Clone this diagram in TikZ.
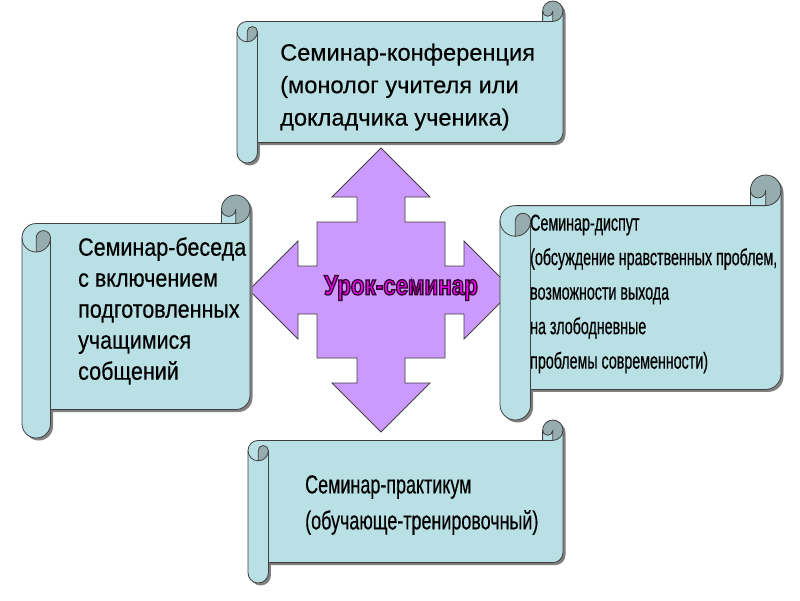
\documentclass[tikz,border=0pt]{standalone}
\usepackage{fontspec}
\setmainfont{Liberation Sans}
\newfontfamily\conffont[FakeBold=0.3]{Liberation Sans}
\newfontfamily\talkfont[FakeStretch=0.86,FakeBold=0.4]{Liberation Sans}
\newfontfamily\disputefont[FakeStretch=0.62,FakeBold=0.5]{Liberation Sans}
\newfontfamily\practfont[FakeStretch=0.69,FakeBold=0.4]{Liberation Sans}
\newfontfamily\lessonfont[FakeStretch=0.8]{Liberation Sans Bold}
\definecolor{scrollblue}{RGB}{185,224,228}
\definecolor{curlgray}{RGB}{150,172,174}
\definecolor{edgegray}{RGB}{64,64,64}
\definecolor{arrowlilac}{RGB}{204,153,255}
\definecolor{glowpink}{RGB}{245,0,240}
% outlined text: fill from the text colour, dark plum stroke
\newcommand{\plumoutline}[1]{\special{pdf:literal direct 0.18 0 0.18 RG 1.3 w 2 Tr}#1\special{pdf:literal direct 0 Tr}}
% scroll: left, top, right, bottom, roll size
\newcommand{\scrollshape}[5]{%
  \pgfmathsetmacro\scrW{#3-#1}\pgfmathsetmacro\scrB{#4-#2}%
  \pgfmathsetmacro\scrC{#5}\pgfmathsetmacro\scrH{#5/2}\pgfmathsetmacro\scrQ{#5/4}%
  \begin{scope}[shift={(#1,#2)}]
    \fill[scrollshadow,shift={(2.5,2.5)}] (0,1.5*\scrC) arc[start angle=180,end angle=270,radius=\scrH] -- (\scrW-\scrC,\scrC) -- (\scrW-\scrC,\scrH) arc[start angle=180,end angle=360,radius=\scrH] -- (\scrW,\scrB-1.5*\scrC) arc[start angle=0,end angle=90,radius=\scrH] -- (\scrC,\scrB-\scrC) -- (\scrC,\scrB-\scrH) arc[start angle=0,end angle=180,radius=\scrH] -- cycle;
    \fill[scrollfill] (\scrW,\scrH) arc[start angle=0,end angle=90,radius=\scrH] -- (\scrW-\scrH,\scrH) arc[start angle=0,end angle=180,radius=\scrQ] -- (\scrW-\scrC,\scrC) -- (\scrH,\scrC) arc[start angle=270,end angle=180,radius=\scrH] -- (0,\scrB-\scrH) arc[start angle=180,end angle=0,radius=\scrH] -- (\scrC,\scrB-\scrC) -- (\scrW-\scrH,\scrB-\scrC) arc[start angle=90,end angle=0,radius=\scrH] -- cycle;
    \fill[curlfill] (\scrH,2*\scrC) arc[start angle=90,end angle=0,radius=\scrH] arc[start angle=0,end angle=-180,radius=\scrQ] -- cycle;
    \fill[curlfill] (\scrW-\scrH,\scrC) arc[start angle=90,end angle=-180,radius=\scrH] arc[start angle=180,end angle=0,radius=\scrQ] -- cycle;
    \draw[scrollline] (0,1.5*\scrC) arc[start angle=180,end angle=270,radius=\scrH] -- (\scrW-\scrC,\scrC) -- (\scrW-\scrC,\scrH) arc[start angle=180,end angle=360,radius=\scrH] -- (\scrW,\scrB-1.5*\scrC) arc[start angle=0,end angle=90,radius=\scrH] -- (\scrC,\scrB-\scrC) -- (\scrC,\scrB-\scrH) arc[start angle=0,end angle=180,radius=\scrH] -- cycle;
    \draw[scrollline] (\scrW-\scrC,\scrC) -- (\scrW-\scrH,\scrC) arc[start angle=90,end angle=0,radius=\scrH];
    \draw[scrollline] (\scrW-\scrH,\scrC) -- (\scrW-\scrH,\scrH) arc[start angle=0,end angle=180,radius=\scrQ];
    \draw[scrollline] (\scrH,2*\scrC) -- (\scrH,1.5*\scrC) arc[start angle=180,end angle=360,radius=\scrQ] arc[start angle=0,end angle=180,radius=\scrH];
    \draw[scrollline] (\scrC,1.5*\scrC) -- (\scrC,\scrB-\scrC);
  \end{scope}}

\begin{document}
\begin{tikzpicture}[x=1pt,y=-1pt,
  scrollfill/.style={fill=scrollblue},
  curlfill/.style={fill=curlgray},
  scrollshadow/.style={fill=black!50},
  scrollline/.style={draw=edgegray,line width=0.8pt,line join=round},
  arrowfill/.style={fill=arrowlilac,draw=edgegray,line width=0.8pt},
  scrolltext/.style={anchor=west,align=left,inner sep=0pt,text=black},
  lessontext/.style={inner sep=0pt,text=glowpink,font=\lessonfont\fontsize{28}{31}\selectfont}]
\fill[white] (0,0) rectangle (800,600);
\useasboundingbox (0,0) rectangle (800,600);
% four-way arrow in the middle
\begin{scope}[shift={(381,290)}]
\draw[arrowfill] (0,-142) -- (49,-93) -- (24,-93) -- (24,-68) -- (64,-68) -- (64,-24) -- (83,-24) -- (83,-49) -- (132,0) -- (83,49) -- (83,24) -- (64,24) -- (64,68) -- (24,68) -- (24,93) -- (49,93) -- (0,142) -- (-49,93) -- (-24,93) -- (-24,68) -- (-64,68) -- (-64,24) -- (-83,24) -- (-83,49) -- (-132,0) -- (-83,-49) -- (-83,-24) -- (-64,-24) -- (-64,-68) -- (-24,-68) -- (-24,-93) -- (-49,-93) -- cycle;
\end{scope}
\node[lessontext] (lesson) at (401,288) {\plumoutline{Урок-семинар}};
% scrolls
\scrollshape{237}{1}{563}{163}{20.4}
\scrollshape{22}{195}{250}{438}{28.5}
\scrollshape{500}{175}{781}{420}{30.6}
\scrollshape{248}{420}{563}{583}{20.4}
\node[scrolltext,font=\conffont\fontsize{23.6}{32.5}\selectfont] (conf) at (280,87) {Семинар-конференция\\(монолог учителя или\\докладчика ученика)};
\node[scrolltext,font=\talkfont\fontsize{25}{31}\selectfont] (talk) at (78,311) {Семинар-беседа\\с включением\\подготовленных\\учащимися\\собщений};
\node[scrolltext,font=\disputefont\fontsize{23}{34.5}\selectfont] (dispute) at (530,294) {Семинар-диспут\\(обсуждение нравственных проблем,\\возможности выхода\\на злободневные\\проблемы современности)};
\node[scrolltext,font=\practfont\fontsize{26}{36}\selectfont] (pract) at (305,505) {Семинар-практикум\\(обучающе-тренировочный)};
\end{tikzpicture}
\end{document}
